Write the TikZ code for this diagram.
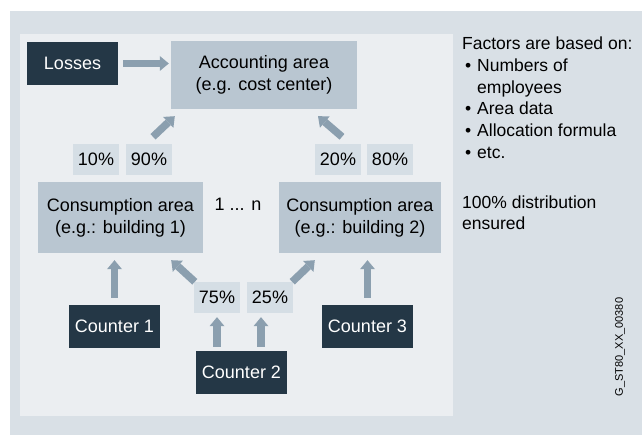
\documentclass[tikz,border=0pt]{standalone}
\usepackage{fontspec}
\setmainfont{Liberation Sans}
\usepackage{tikz}
\usepackage{xcolor}
\usetikzlibrary{arrows.meta}

\definecolor{bgout}{HTML}{D9E0E6}
\definecolor{bgin}{HTML}{EBEEF1}
\definecolor{boxmid}{HTML}{B9C6D1}
\definecolor{boxpct}{HTML}{D5DEE5}
\definecolor{boxdark}{HTML}{243746}
\definecolor{arrowgray}{HTML}{8B9FAF}

\tikzset{
  lbl/.style={inner sep=0pt, font=\fontsize{18}{22}\selectfont},
  area/.style={lbl, fill=boxmid, align=center, minimum height=68pt},
  counter/.style={lbl, fill=boxdark, text=white, minimum width=91pt, minimum height=43pt},
  pct/.style={lbl, fill=boxpct, minimum width=46pt, minimum height=31pt},
  flow/.style={draw=arrowgray, line width=7.5pt, -{Triangle[length=9pt,width=15pt,line width=0pt]}}
}

\begin{document}
\begin{tikzpicture}[x=1pt,y=1pt]
            \useasboundingbox (0,0) rectangle (642,435);
            \fill[bgout] (10,0) rectangle (642,424);
            \fill[bgin] (20,19) rectangle (453,401);

            \node[counter] (losses) at (72.5,371.5) {Losses};
            \node[area, minimum width=186pt] (acc) at (264,360) {Accounting area\\(e.g. cost center)};

            \node[pct] (p10) at (96,275.5) {10\%};
            \node[pct] (p90) at (149,275.5) {90\%};
            \node[pct] (p20) at (338,275.5) {20\%};
            \node[pct] (p80) at (390,275.5) {80\%};

            \node[area, minimum width=165pt, minimum height=71pt] (cons1) at (120.5,217.5) {Consumption area\\(e.g.: building 1)};
            \node[area, minimum width=162pt, minimum height=71pt] (cons2) at (360,217.5) {Consumption area\\(e.g.: building 2)};
            \node[lbl] (range) at (238,231) {1 ... n};

            \node[pct] (p75) at (217,137.5) {75\%};
            \node[pct] (p25) at (270,137.5) {25\%};

            \node[counter] (counter1) at (114.5,108.5) {Counter 1};
            \node[counter] (counter2) at (241.5,62.5) {Counter 2};
            \node[counter] (counter3) at (367.5,108.5) {Counter 3};

            \draw[flow] ([xshift=5pt]losses.east) -- ([xshift=-2pt]losses.east -| acc.west);
            \draw[flow] ([shift={(4,7)}]p90.north) -- ([shift={(4,-7)}]acc.south west);
            \draw[flow] ([shift={(4,7)}]p20.north) -- ([shift={(54,-7)}]acc.south);
            \draw[flow] ([xshift=1pt]p75.north west) -- ([shift={(-32,-7)}]cons1.south east);
            \draw[flow] ([xshift=-1pt]p25.north east) -- ([shift={(36,-7)}]cons2.south west);
            \draw[flow] ([yshift=7pt]counter1.north) -- ([yshift=-7pt]counter1.north |- cons1.south);
            \draw[flow] ([yshift=7pt]counter3.north) -- ([yshift=-7pt]counter3.north |- cons2.south);
            \draw[flow] ([yshift=4pt]p75.south |- counter2.north) -- ([yshift=-4pt]p75.south);
            \draw[flow] ([shift={(-9,4)}]p25.south |- counter2.north) -- ([shift={(-9,-4)}]p25.south);

            \node[anchor=north west, inner sep=0pt, align=left, font=\fontsize{17.5}{21.7}\selectfont] (factors) at (462,398)
              {Factors are based on:\\
               \makebox[15pt][l]{\,•}Numbers of\\
               \hspace*{15pt}employees\\
               \makebox[15pt][l]{\,•}Area data\\
               \makebox[15pt][l]{\,•}Allocation formula\\
               \makebox[15pt][l]{\,•}etc.\\[28pt]
               100\% distribution\\
               ensured};
            \node[rotate=90, inner sep=0pt, font=\fontsize{11}{13}\selectfont] (docid) at (620,88) {G\_ST80\_XX\_00380};
        \end{tikzpicture}
\end{document}
